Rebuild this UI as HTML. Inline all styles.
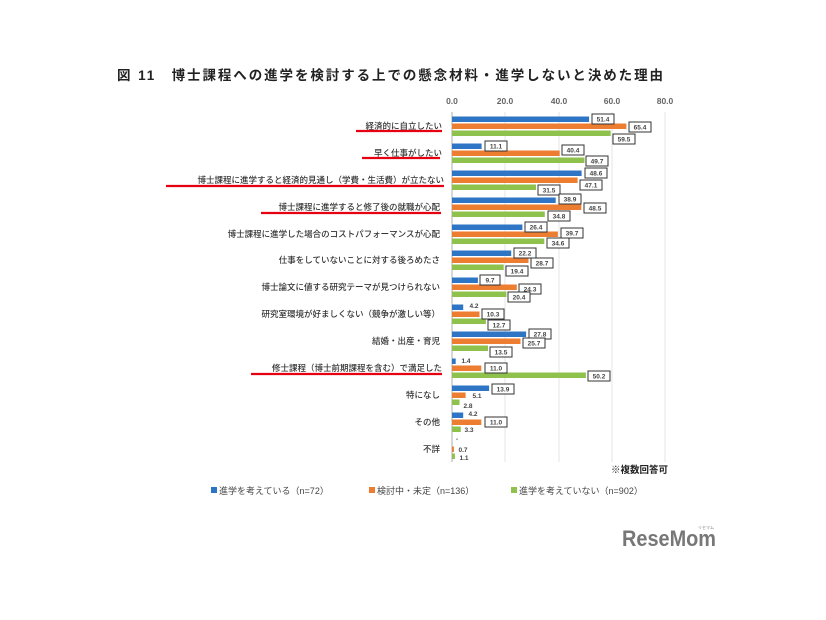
<!DOCTYPE html>
<html><head><meta charset="utf-8"><style>
body{margin:0;background:#fff}
svg{display:block;font-family:"Liberation Sans","Noto Sans CJK JP",sans-serif}
.c{font-size:8.5px;fill:#333;text-anchor:end;font-weight:500}
.v{font-size:6.5px;font-weight:bold;fill:#444;text-anchor:middle}
.b{fill:#fff;stroke:#333;stroke-width:1}
.ax{font-size:8.5px;font-weight:bold;fill:#666;text-anchor:middle}
rect[height="5"]{height:5.5px}
</style></head><body>
<svg width="826" height="620" viewBox="0 0 826 620">
<text x="117" y="80" font-size="13.5" font-weight="bold" fill="#222" textLength="546" font-family="'Liberation Sans','Noto Sans CJK JP',sans-serif">図 11　博士課程への進学を検討する上での懸念材料・進学しないと決めた理由</text>
<g class="ax"><text x="452" y="104">0.0</text><text x="505" y="104">20.0</text><text x="559" y="104">40.0</text><text x="612" y="104">60.0</text><text x="665" y="104">80.0</text></g>
<g stroke="#e4e4e4" stroke-width="1"><line x1="505" y1="112" x2="505" y2="462"/><line x1="559" y1="112" x2="559" y2="462"/><line x1="612" y1="112" x2="612" y2="462"/><line x1="665" y1="112" x2="665" y2="462"/></g>
<line x1="452" y1="112" x2="452" y2="462" stroke="#bbb" stroke-width="1.2"/>

<g transform="translate(0,119)"><text class="c" x="442" y="10">経済的に自立したい</text>
<rect x="452" y="-2.5" width="137.1" height="5" fill="#2e75c6"/><rect x="452" y="4.5" width="174.4" height="5" fill="#ed7d31"/><rect x="452" y="11.5" width="158.7" height="5" fill="#8ec24c"/>
<rect class="b" x="592" y="-5" width="22" height="10"/><text class="v" x="603" y="2.5">51.4</text>
<rect class="b" x="629" y="3" width="22" height="10"/><text class="v" x="640" y="10.5">65.4</text>
<rect class="b" x="613" y="15" width="22" height="10"/><text class="v" x="624" y="22.5">59.5</text></g>

<g transform="translate(0,146)"><text class="c" x="442" y="10">早く仕事がしたい</text>
<rect x="452" y="-2.5" width="29.6" height="5" fill="#2e75c6"/><rect x="452" y="4.5" width="107.7" height="5" fill="#ed7d31"/><rect x="452" y="11.5" width="132.5" height="5" fill="#8ec24c"/>
<rect class="b" x="485" y="-5" width="22" height="10"/><text class="v" x="496" y="2.5">11.1</text>
<rect class="b" x="562" y="-1" width="22" height="10"/><text class="v" x="573" y="6.5">40.4</text>
<rect class="b" x="586" y="10" width="22" height="10"/><text class="v" x="597" y="17.5">49.7</text></g>

<g transform="translate(0,173)"><text class="c" x="444" y="10">博士課程に進学すると経済的見通し（学費・生活費）が立たない</text>
<rect x="452" y="-2.5" width="129.6" height="5" fill="#2e75c6"/><rect x="452" y="4.5" width="125.6" height="5" fill="#ed7d31"/><rect x="452" y="11.5" width="84" height="5" fill="#8ec24c"/>
<rect class="b" x="585" y="-5" width="22" height="10"/><text class="v" x="596" y="2.5">48.6</text>
<rect class="b" x="580" y="7" width="22" height="10"/><text class="v" x="591" y="14.5">47.1</text>
<rect class="b" x="538" y="12" width="22" height="10"/><text class="v" x="549" y="19.5">31.5</text></g>

<g transform="translate(0,200)"><text class="c" x="440" y="10">博士課程に進学すると修了後の就職が心配</text>
<rect x="452" y="-2.5" width="103.7" height="5" fill="#2e75c6"/><rect x="452" y="4.5" width="129.3" height="5" fill="#ed7d31"/><rect x="452" y="11.5" width="92.8" height="5" fill="#8ec24c"/>
<rect class="b" x="559" y="-6" width="22" height="10"/><text class="v" x="570" y="1.5">38.9</text>
<rect class="b" x="584" y="3" width="22" height="10"/><text class="v" x="595" y="10.5">48.5</text>
<rect class="b" x="548" y="11" width="22" height="10"/><text class="v" x="559" y="18.5">34.8</text></g>

<g transform="translate(0,227)"><text class="c" x="440" y="10">博士課程に進学した場合のコストパフォーマンスが心配</text>
<rect x="452" y="-2.5" width="70.4" height="5" fill="#2e75c6"/><rect x="452" y="4.5" width="105.9" height="5" fill="#ed7d31"/><rect x="452" y="11.5" width="92.3" height="5" fill="#8ec24c"/>
<rect class="b" x="525" y="-5" width="22" height="10"/><text class="v" x="536" y="2.5">26.4</text>
<rect class="b" x="561" y="1" width="22" height="10"/><text class="v" x="572" y="8.5">39.7</text>
<rect class="b" x="547" y="11" width="22" height="10"/><text class="v" x="558" y="18.5">34.6</text></g>

<g transform="translate(0,253)"><text class="c" x="440" y="10">仕事をしていないことに対する後ろめたさ</text>
<rect x="452" y="-2.5" width="59.2" height="5" fill="#2e75c6"/><rect x="452" y="4.5" width="76.5" height="5" fill="#ed7d31"/><rect x="452" y="11.5" width="51.7" height="5" fill="#8ec24c"/>
<rect class="b" x="514" y="-5" width="22" height="10"/><text class="v" x="525" y="2.5">22.2</text>
<rect class="b" x="531" y="5" width="22" height="10"/><text class="v" x="542" y="12.5">28.7</text>
<rect class="b" x="506" y="13" width="22" height="10"/><text class="v" x="517" y="20.5">19.4</text></g>

<g transform="translate(0,280)"><text class="c" x="440" y="10">博士論文に値する研究テーマが見つけられない</text>
<rect x="452" y="-2.5" width="25.9" height="5" fill="#2e75c6"/><rect x="452" y="4.5" width="64.8" height="5" fill="#ed7d31"/><rect x="452" y="11.5" width="54.4" height="5" fill="#8ec24c"/>
<rect class="b" x="480" y="-5" width="20" height="10"/><text class="v" x="490" y="2.5">9.7</text>
<rect class="b" x="519" y="4" width="22" height="10"/><text class="v" x="530" y="11.5">24.3</text>
<rect class="b" x="508" y="12" width="22" height="10"/><text class="v" x="519" y="19.5">20.4</text></g>

<g transform="translate(0,307)"><text class="c" x="440" y="10">研究室環境が好ましくない（競争が激しい等）</text>
<rect x="452" y="-2.5" width="11.2" height="5" fill="#2e75c6"/><rect x="452" y="4.5" width="27.5" height="5" fill="#ed7d31"/><rect x="452" y="11.5" width="33.9" height="5" fill="#8ec24c"/>
<text class="v" x="474" y="1">4.2</text>
<rect class="b" x="482" y="2" width="22" height="10"/><text class="v" x="493" y="9.5">10.3</text>
<rect class="b" x="488" y="13" width="22" height="10"/><text class="v" x="499" y="20.5">12.7</text></g>

<g transform="translate(0,334)"><text class="c" x="440" y="10">結婚・出産・育児</text>
<rect x="452" y="-2.5" width="74.1" height="5" fill="#2e75c6"/><rect x="452" y="4.5" width="68.5" height="5" fill="#ed7d31"/><rect x="452" y="11.5" width="36" height="5" fill="#8ec24c"/>
<rect class="b" x="529" y="-5" width="22" height="10"/><text class="v" x="540" y="2.5">27.8</text>
<rect class="b" x="523" y="4" width="22" height="10"/><text class="v" x="534" y="11.5">25.7</text>
<rect class="b" x="490" y="13" width="22" height="10"/><text class="v" x="501" y="20.5">13.5</text></g>

<g transform="translate(0,361)"><text class="c" x="442" y="10">修士課程（博士前期課程を含む）で満足した</text>
<rect x="452" y="-2.5" width="3.7" height="5" fill="#2e75c6"/><rect x="452" y="4.5" width="29.3" height="5" fill="#ed7d31"/><rect x="452" y="11.5" width="133.9" height="5" fill="#8ec24c"/>
<text class="v" x="466" y="2">1.4</text>
<rect class="b" x="485" y="2" width="22" height="10"/><text class="v" x="496" y="9.5">11.0</text>
<rect class="b" x="588" y="10" width="22" height="10"/><text class="v" x="599" y="17.5">50.2</text></g>

<g transform="translate(0,388)"><text class="c" x="440" y="10">特になし</text>
<rect x="452" y="-2.5" width="37.1" height="5" fill="#2e75c6"/><rect x="452" y="4.5" width="13.6" height="5" fill="#ed7d31"/><rect x="452" y="11.5" width="7.5" height="5" fill="#8ec24c"/>
<rect class="b" x="492" y="-4" width="22" height="10"/><text class="v" x="503" y="3.5">13.9</text>
<text class="v" x="477" y="10">5.1</text>
<text class="v" x="468" y="20">2.8</text></g>

<g transform="translate(0,415)"><text class="c" x="440" y="10">その他</text>
<rect x="452" y="-2.5" width="11.2" height="5" fill="#2e75c6"/><rect x="452" y="4.5" width="29.3" height="5" fill="#ed7d31"/><rect x="452" y="11.5" width="8.8" height="5" fill="#8ec24c"/>
<text class="v" x="473" y="1">4.2</text>
<rect class="b" x="485" y="2" width="22" height="10"/><text class="v" x="496" y="9.5">11.0</text>
<text class="v" x="469" y="17">3.3</text></g>

<g transform="translate(0,442)"><text class="c" x="440" y="10">不詳</text>
<rect x="452" y="4.5" width="1.9" height="5" fill="#ed7d31"/><rect x="452" y="11.5" width="2.9" height="5" fill="#8ec24c"/>
<text class="v" x="457" y="-1">-</text>
<text class="v" x="463" y="10">0.7</text>
<text class="v" x="464" y="18">1.1</text></g>

<g stroke="#e60012" stroke-width="2.2">
<line x1="356" y1="131" x2="442" y2="131"/>
<line x1="362" y1="158" x2="440" y2="158"/>
<line x1="166" y1="186" x2="444" y2="186"/>
<line x1="261" y1="213" x2="441" y2="213"/>
<line x1="251" y1="374" x2="442" y2="374"/>
</g>

<text x="668" y="473" font-size="9.5" font-weight="bold" fill="#222" text-anchor="end">※複数回答可</text>
<g font-size="9" fill="#444">
<rect x="211" y="487" width="6" height="6" fill="#2e75c6"/><text x="219" y="494">進学を考えている（n=72）</text>
<rect x="369" y="487" width="6" height="6" fill="#ed7d31"/><text x="377" y="494">検討中・未定（n=136）</text>
<rect x="511" y="487" width="6" height="6" fill="#8ec24c"/><text x="519" y="494">進学を考えていない（n=902）</text>
</g>
<text x="622" y="546" font-size="22" font-weight="bold" fill="#777" textLength="94" lengthAdjust="spacingAndGlyphs">ReseMom</text>
<text x="714" y="529" font-size="4" fill="#888" text-anchor="end">リセマム</text>
</svg>
</body></html>
